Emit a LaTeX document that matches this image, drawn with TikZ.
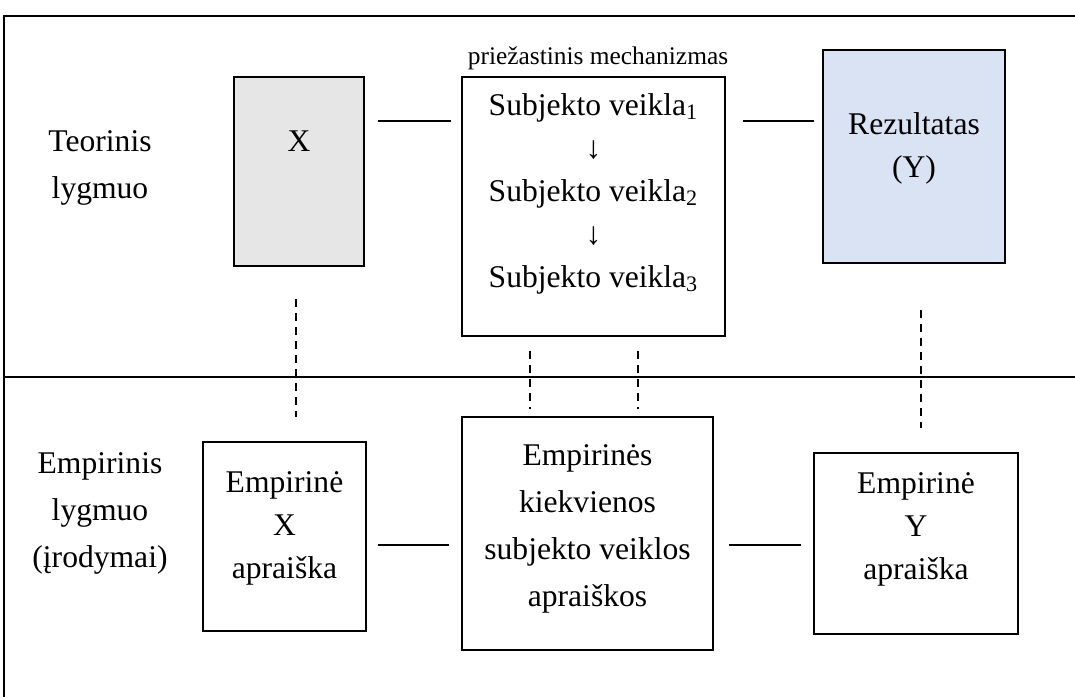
\documentclass[tikz,border=0pt]{standalone}
\usepackage{fontspec}
\setmainfont{Liberation Serif}
\usetikzlibrary{calc}
\definecolor{xgray}{HTML}{E7E6E6}
\definecolor{yblue}{HTML}{DAE3F3}
\newcommand{\boxtext}[2]{\raisebox{#1}[\height][\depth]{\begin{tabular}{@{}c@{}}#2\end{tabular}}}
\tikzset{
  x=0.5pt,
  y=-0.5pt,
  box/.style={draw, line width=1pt, inner sep=0pt, font=\fontsize{15.8}{21.5}\selectfont},
  level/.style={align=center, inner sep=0pt, font=\fontsize{15.8}{23.5}\selectfont},
  link/.style={line width=1pt},
  tie/.style={line width=1pt, dash pattern=on 4pt off 3pt},
  frame/.style={line width=1pt},
}

\begin{document}
\begin{tikzpicture}
  \useasboundingbox (0,0) rectangle (1075,697);
  \draw[frame] (4,697) -- (4,16) -- (1075,16);
  \draw[frame] (4,377) -- (1075,377);

  \node[level] (teo) at (100,168) {Teorinis\\lygmuo};
  \node[level] (emp) at (100,513) {Empirinis\\lygmuo\\(įrodymai)};

  \node[box, fill=xgray, minimum width=65pt, minimum height=94.5pt]   (xbox) at (299,171.5) {\boxtext{14.5pt}{X}};
  \node[box, minimum width=131.5pt, minimum height=129.5pt]           (mech) at (593.5,206.5)
    {\boxtext{7pt}{Subjekto veikla\textsubscript{1}\\ ↓\\ Subjekto veikla\textsubscript{2}\\ ↓\\ Subjekto veikla\textsubscript{3}}};
  \node[inner sep=0pt, font=\fontsize{12.7}{15}\selectfont]           (mlabel) at (598,58) {priežastinis mechanizmas};
  \node[box, fill=yblue, minimum width=91pt, minimum height=106.5pt]  (rez) at (914,156.5) {\boxtext{4.75pt}{Rezultatas\\ (Y)}};

  \node[box, minimum width=81.5pt, minimum height=94.5pt]   (ex) at (284.5,536.5) {\boxtext{4.75pt}{Empirinė\\ X\\ apraiška}};
  \node[box, minimum width=125.5pt, minimum height=116.5pt, font=\fontsize{15.8}{23.5}\selectfont] (emech) at (587.5,533.5)
    {\boxtext{3.5pt}{Empirinės\\ kiekvienos\\ subjekto veiklos\\ apraiškos}};
  \node[box, minimum width=102pt, minimum height=90.5pt]    (ey) at (916,543.5) {\boxtext{7.75pt}{Empirinė\\ Y\\ apraiška}};

  \draw[link] ($(xbox.north east)+(13,45)$) -- ($(mech.north west)+(-10,45)$);
  \draw[link] ($(mech.north east)+(17,45)$) -- ($(rez.north west)+(-8,72)$);
  \draw[link] ($(ex.east)+(11,8.5)$) -- ($(emech.west)+(-12,11.5)$);
  \draw[link] ($(emech.east)+(15,11.5)$) -- ($(ey.west)+(-12,1.5)$);

  \draw[tie] ($(xbox.south)+(-3,32)$) -- ($(ex.north)+(11.5,-24)$);
  \draw[tie] ($(mech.south)+(-63.5,14)$) -- ($(emech.north)+(-57.5,-7)$);
  \draw[tie] ($(mech.south)+(44.5,14)$) -- ($(emech.north)+(50.5,-7)$);
  \draw[tie] ($(rez.south)+(7,46)$) -- ($(ey.north)+(5,-24)$);
\end{tikzpicture}
\end{document}
